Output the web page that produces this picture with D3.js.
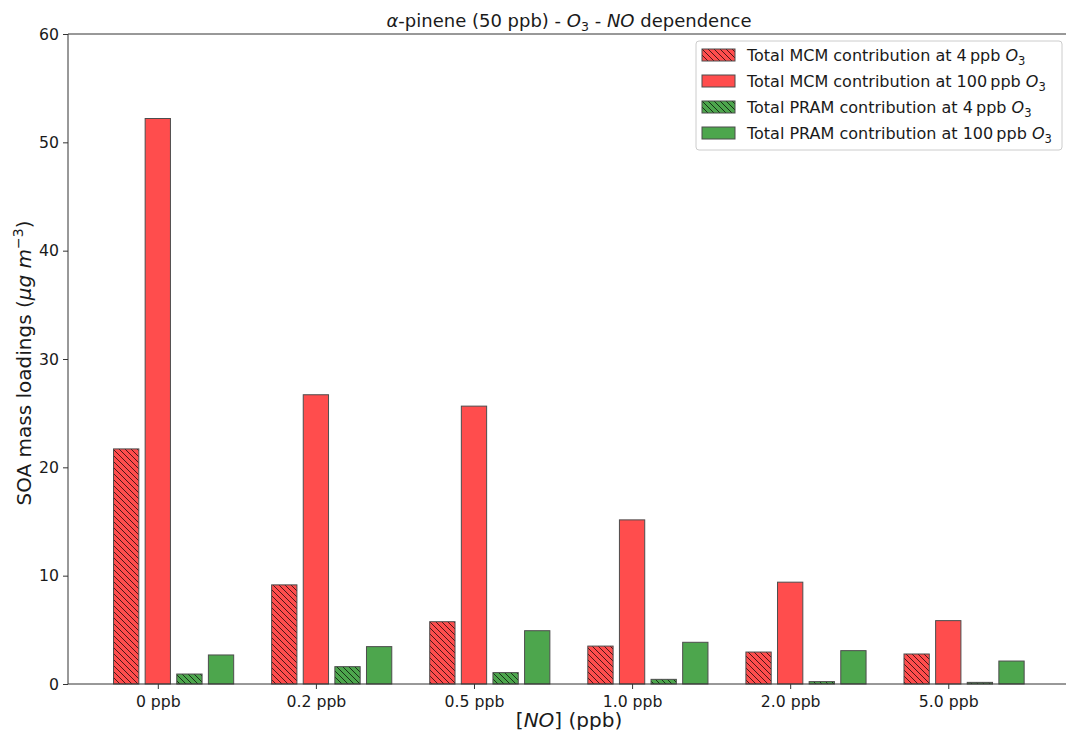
<!DOCTYPE html>
<html>
<head>
<meta charset="utf-8">
<script src="https://cdn.jsdelivr.net/npm/d3@7"></script>
<style>
  html, body { margin: 0; padding: 0; background: #fff; }
  svg { display: block; font-family: "DejaVu Sans", sans-serif; }
</style>
</head>
<body>
<svg id="chart" width="1066" height="730"></svg>
<script>
// NO mixing ratios on the x axis
const categories = ["0 ppb", "0.2 ppb", "0.5 ppb", "1.0 ppb", "2.0 ppb", "5.0 ppb"];

// SOA mass loadings (µg m^-3)
const mcm4   = [21.7, 9.15, 5.75, 3.5, 2.95, 2.77];
const mcm100 = [52.2, 26.7, 25.65, 15.15, 9.4, 5.85];
const pram4  = [0.92, 1.6, 1.05, 0.43, 0.22, 0.15];
const pram100 = [2.68, 3.45, 4.92, 3.85, 3.08, 2.12];

const yTicks = [0, 10, 20, 30, 40, 50, 60];

const series = [
  { name: "MCM", o3: "4",   values: mcm4,    color: "#ff4d4d", hatch: true,  offset: -0.2 },
  { name: "MCM", o3: "100", values: mcm100,  color: "#ff4d4d", hatch: false, offset: 0.0 },
  { name: "PRAM", o3: "4",  values: pram4,   color: "#4da64d", hatch: true,  offset: 0.2 },
  { name: "PRAM", o3: "100", values: pram100, color: "#4da64d", hatch: false, offset: 0.4 }
];
const barWidth = 0.16;

const svg = d3.select("#chart");
const margin = { left: 68, right: -4, top: 34, bottom: 46 };
const W = 1066, H = 730;
const plotL = margin.left, plotR = W - margin.right, plotT = margin.top, plotB = H - margin.bottom;

const x = d3.scaleLinear().domain([-0.568, 5.77]).range([plotL, plotR]);
const y = d3.scaleLinear().domain([0, 60]).range([plotB, plotT]);

// hatch patterns for the 4 ppb O3 series
const defs = svg.append("defs");
function hatchPattern(id, fill) {
  const p = defs.append("pattern")
    .attr("id", id)
    .attr("patternUnits", "userSpaceOnUse")
    .attr("width", 6).attr("height", 6);
  p.append("rect").attr("width", 6).attr("height", 6).attr("fill", fill);
  p.append("path")
    .attr("d", "M-1,-1 L7,7 M-1,5 L1,7 M5,-1 L7,1")
    .attr("stroke", "#000").attr("stroke-opacity", 0.7).attr("stroke-width", 1);
}
hatchPattern("hatch-red", "#ff4d4d");
hatchPattern("hatch-green", "#4da64d");
function fillFor(s) {
  if (!s.hatch) return s.color;
  return s.color === "#ff4d4d" ? "url(#hatch-red)" : "url(#hatch-green)";
}

// bars
const gBars = svg.append("g");
series.forEach(s => {
  gBars.selectAll(null)
    .data(s.values)
    .enter().append("rect")
    .attr("x", (d, i) => x(i + s.offset - barWidth / 2))
    .attr("width", x(barWidth) - x(0))
    .attr("y", d => y(d))
    .attr("height", d => y(0) - y(d))
    .attr("fill", fillFor(s))
    .attr("stroke", "#4d4d4d")
    .attr("stroke-width", 1);
});

// axes
const xAxis = d3.axisBottom(x)
  .tickValues(d3.range(categories.length))
  .tickFormat(i => categories[i])
  .tickSize(5).tickPadding(4);
const yAxis = d3.axisLeft(y)
  .tickValues(yTicks)
  .tickSize(5).tickPadding(4);

const gx = svg.append("g").attr("transform", `translate(0,${plotB})`).call(xAxis);
const gy = svg.append("g").attr("transform", `translate(${plotL},0)`).call(yAxis);
[gx, gy].forEach(g => {
  g.select(".domain").remove();
  g.selectAll("line").attr("stroke", "#333").attr("stroke-width", 1);
  g.selectAll("text").attr("font-size", 15.7).attr("fill", "#1a1a1a")
    .attr("font-family", "DejaVu Sans");
});
gx.selectAll("text").attr("dy", "0.9em");

// spines
const spine = svg.append("g").attr("stroke", "#333").attr("stroke-width", 1).attr("fill", "none");
spine.append("line").attr("x1", plotL).attr("x2", plotL).attr("y1", plotT).attr("y2", plotB);
spine.append("line").attr("x1", plotL).attr("x2", plotR).attr("y1", plotB).attr("y2", plotB);
spine.append("line").attr("x1", plotL).attr("x2", plotR).attr("y1", plotT).attr("y2", plotT);
spine.append("line").attr("x1", plotR).attr("x2", plotR).attr("y1", plotT).attr("y2", plotB);

// title
const cx = (plotL + plotR) / 2;
const title = svg.append("text")
  .attr("x", cx).attr("y", 27)
  .attr("text-anchor", "middle")
  .attr("font-size", 18).attr("fill", "#1a1a1a");
title.append("tspan").attr("font-style", "italic").text("α");
title.append("tspan").text("-pinene (50 ppb) - ");
title.append("tspan").attr("font-style", "italic").text("O");
title.append("tspan").attr("font-size", 12.5).attr("dy", 4).text("3");
title.append("tspan").attr("dy", -4).text(" - ");
title.append("tspan").attr("font-style", "italic").text("NO");
title.append("tspan").text(" dependence");

// x label
const xl = svg.append("text")
  .attr("x", cx).attr("y", 727)
  .attr("text-anchor", "middle")
  .attr("font-size", 20).attr("fill", "#1a1a1a");
xl.append("tspan").text("[");
xl.append("tspan").attr("font-style", "italic").text("NO");
xl.append("tspan").text("] (ppb)");

// y label
const yl = svg.append("text")
  .attr("transform", `translate(31,${(plotT + plotB) / 2 + 4}) rotate(-90)`)
  .attr("text-anchor", "middle")
  .attr("font-size", 20).attr("fill", "#1a1a1a");
yl.append("tspan").text("SOA mass loadings (");
yl.append("tspan").attr("font-style", "italic").text("μg m");
yl.append("tspan").attr("font-size", 14).attr("dy", -8).text("−3");
yl.append("tspan").attr("dy", 8).text(")");

// legend
const leg = svg.append("g").attr("transform", "translate(696,41)");
leg.append("rect")
  .attr("width", 366).attr("height", 109).attr("rx", 3)
  .attr("fill", "#fff").attr("fill-opacity", 0.8)
  .attr("stroke", "#ccc").attr("stroke-width", 1);
series.forEach((s, i) => {
  const row = leg.append("g").attr("transform", `translate(0,${14 + i * 26})`);
  row.append("rect")
    .attr("x", 6).attr("y", -6).attr("width", 33).attr("height", 12)
    .attr("fill", fillFor(s))
    .attr("stroke", "#4d4d4d").attr("stroke-width", 1);
  const t = row.append("text")
    .attr("x", 51).attr("y", 5.5)
    .attr("font-size", 16).attr("fill", "#1a1a1a");
  t.append("tspan").text(`Total ${s.name} contribution at ${s.o3}\u2009ppb `);
  t.append("tspan").attr("font-style", "italic").text("O");
  t.append("tspan").attr("font-size", 11.5).attr("dy", 4).text("3");
});
</script>
</body>
</html>
